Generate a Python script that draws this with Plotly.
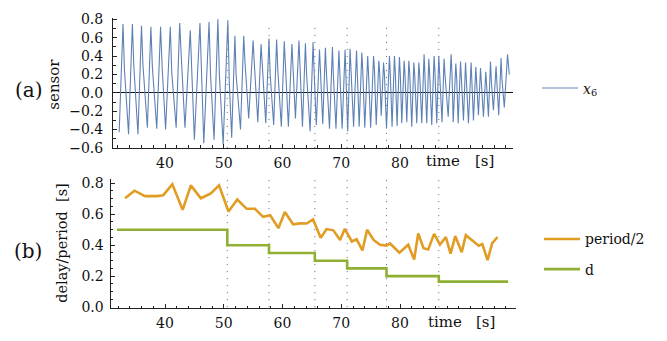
import plotly.graph_objects as go

# ---------------- data ----------------
# sensor x6: per-cycle vertices (trough -> peak -> shoulder)
trough_t = [32.2, 33.8, 35.4, 37.0, 38.6, 40.1, 41.9, 43.4, 45.0, 46.6, 48.35, 49.9,
            51.35, 52.85, 54.25, 55.8, 57.15,
            58.5, 59.8, 61.0, 62.2, 63.4, 64.7,
            65.75, 66.85, 68.0, 69.1, 70.15, 71.1, 72.1, 73.05, 74.0, 75.0, 75.95, 76.8,
            77.7, 78.65, 79.5, 80.3, 81.15, 82.0, 82.85, 83.7, 84.55, 85.4, 86.25, 87.15,
            88.2, 89.05, 89.9, 90.8, 91.65, 92.5, 93.35, 94.2, 95.05, 95.9, 96.8, 97.75]
trough_v = [-0.43, -0.45, -0.45, -0.38, -0.39, -0.40, -0.38, -0.38, -0.51, -0.55, -0.51, -0.56,
            -0.49, -0.40, -0.28, -0.32, -0.33,
            -0.35, -0.37, -0.37, -0.28, -0.37, -0.42,
            -0.35, -0.34, -0.39, -0.39, -0.39, -0.42, -0.37, -0.37, -0.38, -0.38, -0.35, -0.25,
            -0.39, -0.37, -0.36, -0.33, -0.32, -0.37, -0.33, -0.33, -0.33, -0.35, -0.33, -0.32,
            -0.26, -0.32, -0.33, -0.30, -0.33, -0.30, -0.245, -0.26, -0.26, -0.19, -0.245, -0.16]
peak_t = [32.85, 34.45, 36.0, 37.6, 39.25, 40.9, 42.5, 44.3, 45.95, 47.5, 49.0, 50.7,
          51.9, 53.4, 55.0, 56.35, 57.7,
          59.0, 60.3, 61.6, 62.8, 63.9, 65.2,
          66.3, 67.3, 68.5, 69.6, 70.65, 71.5, 72.6, 73.5, 74.5, 75.5, 76.4, 77.2,
          78.2, 79.05, 79.9, 80.7, 81.5, 82.35, 83.2, 84.1, 84.9, 85.8, 86.6, 87.5,
          88.7, 89.5, 90.3, 91.15, 92.1, 92.9, 93.7, 94.6, 95.4, 96.35, 97.2, 98.3]
peak_v = [0.75, 0.75, 0.73, 0.72, 0.72, 0.72, 0.76, 0.68, 0.76, 0.77, 0.80, 0.79,
          0.62, 0.62, 0.57, 0.53, 0.59,
          0.58, 0.56, 0.53, 0.57, 0.54, 0.55,
          0.47, 0.49, 0.50, 0.46, 0.47, 0.48, 0.46, 0.44, 0.40, 0.40, 0.35, 0.33,
          0.40, 0.40, 0.39, 0.35, 0.35, 0.33, 0.33, 0.42, 0.37, 0.40, 0.40, 0.37,
          0.42, 0.32, 0.34, 0.33, 0.33, 0.28, 0.27, 0.23, 0.34, 0.29, 0.38, 0.42]
shoulder_t = [33.1, 34.7, 36.25, 37.85, 39.5, 41.15, 42.75, 44.55, 46.2, 47.75, 49.25, 50.95,
              52.1, 53.6, 55.2, 56.55, 57.9,
              59.2, 60.5, 61.8, 63.0, 64.1, 65.4,
              66.45, 67.45, 68.65, 69.75, 70.8, 71.65, 72.75, 73.65, 74.65, 75.65, 76.55, 77.35,
              78.35, 79.2, 80.05, 80.85, 81.65, 82.5, 83.35, 84.25, 85.05, 85.95, 86.75, 87.65,
              88.85, 89.65, 90.45, 91.3, 92.25, 93.05, 93.85, 94.75, 95.55, 96.5, 97.35, 98.6]
shoulder_v = [0.25, 0.28, 0.30, 0.28, 0.30, 0.22, 0.42, 0.22, 0.20, 0.20, 0.20, 0.10,
              0.20, 0.35, 0.32, 0.28, 0.20,
              0.25, 0.25, 0.28, 0.25, 0.20, 0.20,
              0.25, 0.25, 0.20, 0.20, 0.22, 0.25, 0.22, 0.25, 0.20, 0.25, 0.20, 0.20,
              0.20, 0.22, 0.20, 0.20, 0.22, 0.20, 0.20, 0.20, 0.20, 0.22, 0.20, 0.20,
              0.20, 0.15, 0.15, 0.15, 0.15, 0.12, 0.12, 0.10, 0.12, 0.10, 0.15, 0.20]

# period/2 (orange)
period_t = [33.2, 34.8, 36.6, 38.6, 39.7, 41.25, 43.0, 44.4, 46.1, 47.8, 49.2, 50.8, 52.3, 53.9,
            55.3, 56.7, 57.9, 59.3, 60.4, 61.8, 63.0, 64.1, 65.2, 66.5, 67.5, 68.65, 69.8, 70.6,
            71.8, 72.6, 73.6, 74.4, 75.5, 76.6, 77.7, 78.3, 79.9, 81.4, 82.4, 83.1, 84.0, 84.8,
            85.8, 86.8, 87.8, 88.6, 89.4, 90.5, 91.2, 92.3, 93.4, 94.0, 94.9, 95.7, 96.6]
period_v = [0.703, 0.752, 0.717, 0.717, 0.723, 0.794, 0.628, 0.786, 0.703, 0.734, 0.786, 0.618,
            0.695, 0.635, 0.635, 0.583, 0.593, 0.51, 0.614, 0.535, 0.541, 0.54, 0.566, 0.448,
            0.504, 0.496, 0.434, 0.506, 0.424, 0.438, 0.366, 0.50, 0.434, 0.403, 0.397, 0.411,
            0.351, 0.403, 0.308, 0.476, 0.38, 0.372, 0.473, 0.403, 0.453, 0.345, 0.459, 0.355,
            0.465, 0.428, 0.397, 0.407, 0.304, 0.413, 0.453]

# delay d (green, step)
d_t = [31.8, 50.6, 57.7, 65.5, 71.0, 77.7, 86.6, 98.4]
d_v = [0.5, 0.4, 0.35, 0.3, 0.25, 0.2, 0.165, 0.165]

# times where d switches (dotted lines)
switch_t = [50.6, 57.7, 65.5, 71.0, 77.7, 86.6]

x_ticks = [40, 50, 60, 70, 80]
x_ticktext = ["40", "50", "60", "70", "80"]
y1_ticks = [-0.6, -0.4, -0.2, 0.0, 0.2, 0.4, 0.6, 0.8]
y1_ticktext = ["\u22120.6", "\u22120.4", "\u22120.2", "0.0", "0.2", "0.4", "0.6", "0.8"]
y2_ticks = [0.0, 0.2, 0.4, 0.6, 0.8]
y2_ticktext = ["0.0", "0.2", "0.4", "0.6", "0.8"]

# ---------------- build ----------------
sensor_t, sensor_v = [], []
for i in range(len(trough_t)):
    sensor_t += [trough_t[i], peak_t[i], shoulder_t[i]]
    sensor_v += [trough_v[i], peak_v[i], shoulder_v[i]]

W, H = 667, 341
FONT = "DejaVu Serif"
BLUE = "#5E81B5"
ORANGE = "#E19C24"
GREEN = "#8FB032"
AX = "#222222"

def px(x):
    return x / W

def py(y):
    return 1 - y / H

fig = go.Figure()
fig.add_trace(go.Scatter(x=sensor_t, y=sensor_v, mode="lines",
                         line=dict(color=BLUE, width=1.1),
                         name="<i>x</i><sub>6</sub>", xaxis="x", yaxis="y",
                         legend="legend", legendgroup="a"))
fig.add_trace(go.Scatter(x=period_t, y=period_v, mode="lines",
                         line=dict(color=ORANGE, width=2.6),
                         name="period/2", xaxis="x2", yaxis="y2",
                         legend="legend2", legendgroup="p"))
fig.add_trace(go.Scatter(x=d_t, y=d_v, mode="lines", line_shape="hv",
                         line=dict(color=GREEN, width=2.6),
                         name="d", xaxis="x2", yaxis="y2",
                         legend="legend2", legendgroup="d"))

shapes = []
for t in switch_t:
    shapes.append(dict(type="line", xref="x", yref="y", x0=t, x1=t, y0=-0.6, y1=0.76,
                       line=dict(color="#666666", width=1, dash="1px,6px"), layer="below"))
    shapes.append(dict(type="line", xref="x2", yref="y2", x0=t, x1=t, y0=0.0, y1=0.83,
                       line=dict(color="#666666", width=1, dash="1px,6px"), layer="below"))

xcommon = dict(showline=True, linecolor=AX, linewidth=1, ticks="inside", ticklen=4,
               tickcolor=AX, tickwidth=1, showgrid=False, zeroline=False,
               tickvals=x_ticks, ticktext=x_ticktext,
               tickfont=dict(family=FONT, size=14, color="#111"),
               minor=dict(dtick=2, tick0=0, ticks="inside", ticklen=2.5, tickcolor=AX, showgrid=False),
               ticklabelstandoff=2)
ycommon = dict(showline=True, linecolor=AX, linewidth=1, ticks="inside", ticklen=4,
               tickcolor=AX, tickwidth=1, showgrid=False,
               tickfont=dict(family=FONT, size=14, color="#111"))

fig.update_layout(
    width=W, height=H, margin=dict(l=0, r=0, t=0, b=0),
    paper_bgcolor="white", plot_bgcolor="rgba(0,0,0,0)",
    xaxis=dict(domain=[px(113), px(513)], range=[31.15, 99.23], anchor="y", **xcommon),
    yaxis=dict(domain=[py(148), py(12)], range=[-0.6, 0.82], anchor="x",
               tickvals=y1_ticks, ticktext=y1_ticktext,
               zeroline=True, zerolinecolor="#111", zerolinewidth=1.2,
               minor=dict(dtick=0.1, tick0=0, ticks="inside", ticklen=2.5, tickcolor=AX, showgrid=False),
               ticklabelstandoff=6, **ycommon),
    xaxis2=dict(domain=[px(110.5), px(516)], range=[30.72, 99.74], anchor="y2", **xcommon),
    yaxis2=dict(domain=[py(315), py(180)], range=[-0.006, 0.83], anchor="x2",
                tickvals=y2_ticks, ticktext=y2_ticktext, zeroline=False,
                minor=dict(dtick=0.05, tick0=0, ticks="inside", ticklen=2.5, tickcolor=AX, showgrid=False),
                ticklabelstandoff=3, **ycommon),
    legend=dict(x=px(537), y=py(86), xanchor="left", yanchor="middle",
                font=dict(family=FONT, size=14, color="#111"), bgcolor="rgba(0,0,0,0)",
                itemwidth=36),
    legend2=dict(x=px(539), y=py(259), xanchor="left", yanchor="middle",
                 font=dict(family=FONT, size=14, color="#111"), bgcolor="rgba(0,0,0,0)",
                 tracegroupgap=9, traceorder="grouped", itemwidth=36),
    shapes=shapes,
    showlegend=True,
)

ann = [
    dict(text="(a)", x=px(29), y=py(88), font=dict(size=20)),
    dict(text="sensor", x=px(54), y=py(81), textangle=-90, font=dict(size=15)),
    dict(text="(b)", x=px(28), y=py(255), font=dict(size=20)),
    dict(text="delay/period&nbsp;&nbsp;[s]", x=px(62), y=py(247), textangle=-90, font=dict(size=14.5)),
    dict(text="time", x=px(443), y=py(162), font=dict(size=15)),
    dict(text="[s]", x=px(484), y=py(162), font=dict(size=15)),
    dict(text="time", x=px(445), y=py(330), font=dict(size=15)),
    dict(text="[s]", x=px(485), y=py(330), font=dict(size=15)),
]
for a in ann:
    a.update(xref="paper", yref="paper", showarrow=False, xanchor="center", yanchor="middle")
    a["font"] = dict(family=FONT, color="#111", **a["font"])
fig.update_layout(annotations=ann)

fig.write_html("out.html")
